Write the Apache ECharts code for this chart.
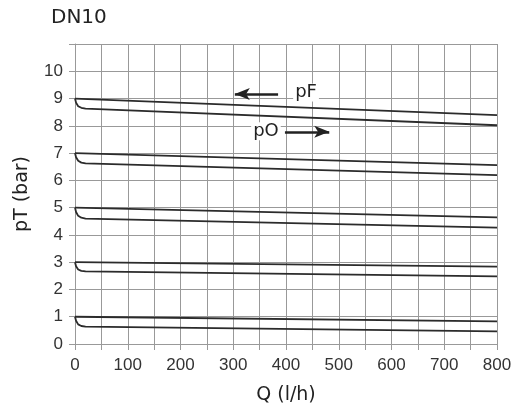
<!DOCTYPE html>
<html><head><meta charset="utf-8">
<script src="https://cdn.jsdelivr.net/npm/echarts@6/dist/echarts.min.js"></script>
<style>html,body{margin:0;padding:0;background:#fff}#c{width:518px;height:414px}</style>
</head><body><div id="c"></div>
<script>
// Flow Q (l/h)
const qPoints = [0, 2, 6, 12, 20, 800];
// pF curves (upper lines): start, end
const pF_1 = [[0, 1.0], [800, 0.83]];
const pF_3 = [[0, 3.0], [800, 2.84]];
const pF_5 = [[0, 5.0], [800, 4.64]];
const pF_7 = [[0, 7.0], [800, 6.56]];
const pF_9 = [[0, 9.0], [800, 8.39]];
// pO curves (lower lines with hook at start), values at qPoints
const pO_1 = [1.0, 0.85, 0.72, 0.66, 0.64, 0.46];
const pO_3 = [3.0, 2.85, 2.73, 2.68, 2.66, 2.48];
const pO_5 = [5.0, 4.84, 4.70, 4.63, 4.60, 4.27];
const pO_7 = [7.0, 6.85, 6.72, 6.65, 6.62, 6.19];
const pO_9 = [9.0, 8.85, 8.72, 8.66, 8.63, 8.02];
const xTicks = [0, 100, 200, 300, 400, 500, 600, 700, 800];
const yTicks = [0, 1, 2, 3, 4, 5, 6, 7, 8, 9, 10];

const lineStyle = {color: '#2b2b2b', width: 1.8};
function lineSeries(data) {
  return {type: 'line', data: data, symbol: 'none', lineStyle: lineStyle, silent: true, animation: false};
}
const series = [];
[pF_1, pF_3, pF_5, pF_7, pF_9].forEach(d => series.push(lineSeries(d)));
[pO_1, pO_3, pO_5, pO_7, pO_9].forEach(v => series.push(lineSeries(qPoints.map((q, i) => [q, v[i]]))));

// annotations: arrows and labels
series.push({
  type: 'line', data: [], silent: true, animation: false,
  markLine: {
    silent: true, symbol: ['none', 'arrow'], symbolSize: [9, 15],
    lineStyle: {color: '#222', width: 2.5, type: 'solid'},
    label: {show: false},
    data: [
      [{coord: [385, 9.17]}, {coord: [303, 9.17]}],
      [{coord: [398, 7.78]}, {coord: [482, 7.78]}]
    ]
  },
  markPoint: {
    symbol: 'rect', symbolSize: 1, itemStyle: {color: 'rgba(0,0,0,0)'},
    label: {show: true, position: 'inside', color: '#222', fontSize: 18, fontFamily: 'DejaVu Sans', backgroundColor: '#fff', padding: [0, 2]},
    data: [
      {coord: [438, 9.22], value: 'pF', label: {formatter: 'pF'}},
      {coord: [362, 7.8], value: 'pO', label: {formatter: 'pO'}}
    ]
  }
});

const chart = echarts.init(document.getElementById('c'), null, {renderer: 'canvas'});
chart.setOption({
  animation: false,
  title: {text: 'DN10', left: 46, top: 3, textStyle: {fontFamily: 'DejaVu Sans', fontWeight: 'normal', fontSize: 20, color: '#222'}},
  grid: {left: 75, right: 21, top: 44, bottom: 70},
  xAxis: {
    type: 'value', min: 0, max: 800, interval: 50,
    name: 'Q (l/h)', nameLocation: 'middle', nameGap: 42,
    nameTextStyle: {fontFamily: 'DejaVu Sans', fontSize: 19, color: '#222'},
    axisLine: {show: true, lineStyle: {color: '#999', width: 1}},
    axisTick: {show: true, length: 6, lineStyle: {color: '#999'}},
    axisLabel: {margin: 13, fontFamily: 'Liberation Sans', fontSize: 17, color: '#333',
      formatter: v => xTicks.indexOf(v) >= 0 ? String(v) : ''},
    splitLine: {show: true, lineStyle: {color: '#999', width: 1}}
  },
  yAxis: {
    type: 'value', min: 0, max: 11, interval: 1,
    name: 'pT (bar)', nameLocation: 'middle', nameGap: 43, nameRotate: 90,
    nameTextStyle: {fontFamily: 'DejaVu Sans', fontSize: 19, color: '#222'},
    axisLine: {show: true, lineStyle: {color: '#999', width: 1}},
    axisTick: {show: true, length: 6, lineStyle: {color: '#999'}},
    axisLabel: {margin: 12, fontFamily: 'Liberation Sans', fontSize: 17, color: '#333',
      formatter: v => yTicks.indexOf(v) >= 0 ? String(v) : ''},
    splitLine: {show: true, lineStyle: {color: '#999', width: 1}}
  },
  series: series
});
</script></body></html>
